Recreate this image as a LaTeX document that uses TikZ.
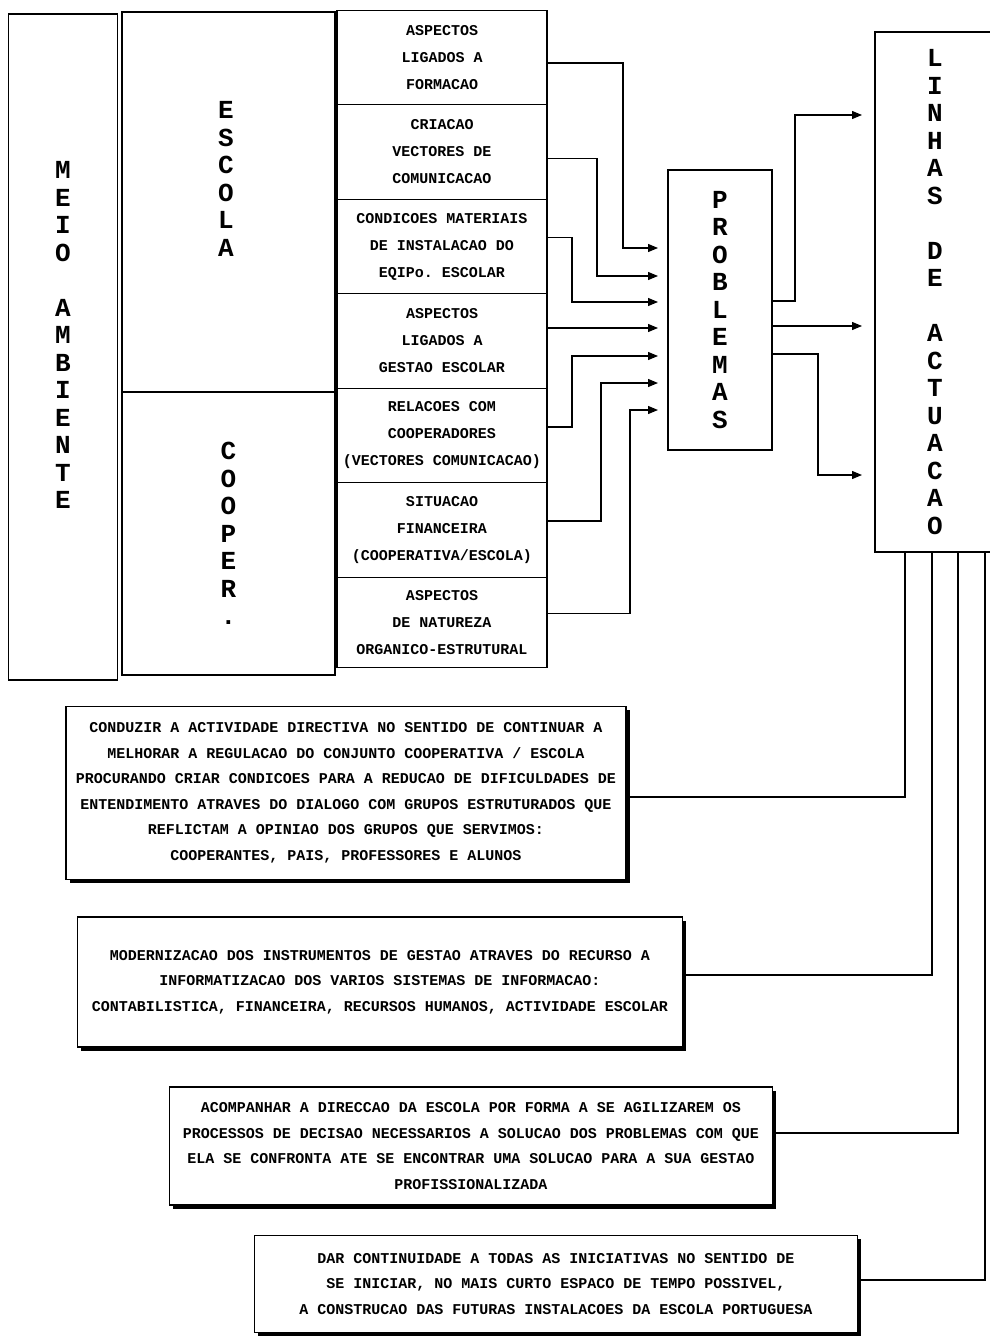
\documentclass[tikz,border=0pt]{standalone}
\usepackage{fontspec}
\setmonofont{Liberation Mono}
\usetikzlibrary{positioning,arrows.meta,shadows}

\begin{document}
\begin{tikzpicture}[x=1pt, y=-1pt,
    every node/.style={font=\ttfamily},
    col/.style={draw, line width=1.2pt, outer sep=0pt, inner sep=0pt, align=center},
    vlab/.style={align=center, inner sep=0pt, font=\ttfamily\bfseries\fontsize{26}{27.5}\selectfont},
    cell/.style={col, minimum width=210pt, minimum height=94.5pt, font=\ttfamily\bfseries\fontsize{15}{27}\selectfont},
    note/.style={draw, line width=1.4pt, fill=white, align=center, inner sep=0pt,
        font=\ttfamily\bfseries\fontsize{15}{25.5}\selectfont,
        drop shadow={shadow xshift=3.5pt, shadow yshift=-3.5pt, fill=black, opacity=1}},
    arr/.style={line width=1.2pt, -{Triangle[length=10pt,width=8pt]}},
    ln/.style={line width=1.2pt}
]
    \useasboundingbox (0,0) rectangle (989,1340);

    % left columns
    \node[col, minimum width=109pt, minimum height=666pt] (meio) at (63,347) {};
    \node[vlab] (meioT) at (63,335) {M\\E\\I\\O\\[27.5pt]A\\M\\B\\I\\E\\N\\T\\E};
    \node[col, minimum width=213pt, minimum height=380pt] (escola) at (228.5,202) {};
    \node[vlab] (escolaT) at (226,179) {E\\S\\C\\O\\L\\A};
    \node[col, vlab, minimum width=213pt, minimum height=283pt, below=0pt of escola] (cooper) {C\\O\\O\\P\\E\\R\\.};

    % factor cells
    \node[cell] (f1) at (442,57.5) {ASPECTOS\\LIGADOS A\\FORMACAO};
    \node[cell, below=0pt of f1] (f2) {CRIACAO\\VECTORES DE\\COMUNICACAO};
    \node[cell, below=0pt of f2] (f3) {CONDICOES MATERIAIS\\DE INSTALACAO DO\\EQIPo. ESCOLAR};
    \node[cell, below=0pt of f3] (f4) {ASPECTOS\\LIGADOS A\\GESTAO ESCOLAR};
    \node[cell, below=0pt of f4] (f5) {RELACOES COM\\COOPERADORES\\(VECTORES COMUNICACAO)};
    \node[cell, below=0pt of f5] (f6) {SITUACAO\\FINANCEIRA\\(COOPERATIVA/ESCOLA)};
    \node[cell, minimum height=90pt, below=0pt of f6] (f7) {ASPECTOS\\DE NATUREZA\\ORGANICO-ESTRUTURAL};

    \node[col, vlab, minimum width=104pt, minimum height=280pt] (prob) at (720,310) {P\\R\\O\\B\\L\\E\\M\\A\\S};
    \node[col, vlab, minimum width=120pt, minimum height=520pt] (lin) at (935,292)
        {L\\I\\N\\H\\A\\S\\[27.5pt]D\\E\\[27.5pt]A\\C\\T\\U\\A\\C\\A\\O};

    % arrow ends in front of the boxes
    \foreach \i/\y in {1/248,2/276,3/302,4/328,5/356,6/383,7/410}
        \coordinate (in\i) at (658,\y);
    \coordinate (out1) at (862,115);
    \coordinate (out2) at (862,326);
    \coordinate (out3) at (862,475);

    % factors into problems
    \draw[arr] ([yshift=-5.5pt]f1.east) -- ++(76,0) |- (in1);
    \draw[arr] ([yshift=-6.5pt]f2.east) -- ++(50,0) |- (in2);
    \draw[arr] ([yshift=9pt]f3.east) -- ++(25,0) |- (in3);
    \draw[arr] (f4.east |- in4) -- (in4);
    \draw[arr] ([yshift=8.5pt]f5.east) -- ++(25,0) |- (in5);
    \draw[arr] ([yshift=9pt]f6.east) -- ++(54,0) |- (in6);
    \draw[arr] ([yshift=9pt]f7.east) -- ++(83,0) |- (in7);

    % problems into lines of action
    \draw[arr] ([yshift=9pt]prob.east) -- ++(23,0) |- (out1);
    \draw[arr] (prob.east |- out2) -- (out2);
    \draw[arr] ([yshift=-44pt]prob.east) -- ++(46,0) |- (out3);

    % lines of action
    \node[note, minimum width=560pt, minimum height=173pt] (t1) at (346,793)
        {CONDUZIR A ACTIVIDADE DIRECTIVA NO SENTIDO DE CONTINUAR A\\
         MELHORAR A REGULACAO DO CONJUNTO COOPERATIVA / ESCOLA\\
         PROCURANDO CRIAR CONDICOES PARA A REDUCAO DE DIFICULDADES DE\\
         ENTENDIMENTO ATRAVES DO DIALOGO COM GRUPOS ESTRUTURADOS QUE\\
         REFLICTAM A OPINIAO DOS GRUPOS QUE SERVIMOS:\\
         COOPERANTES, PAIS, PROFESSORES E ALUNOS};
    \node[note, minimum width=605pt, minimum height=130pt] (t2) at (380,982)
        {MODERNIZACAO DOS INSTRUMENTOS DE GESTAO ATRAVES DO RECURSO A\\
         INFORMATIZACAO DOS VARIOS SISTEMAS DE INFORMACAO:\\
         CONTABILISTICA, FINANCEIRA, RECURSOS HUMANOS, ACTIVIDADE ESCOLAR};
    \node[note, minimum width=603pt, minimum height=118pt] (t3) at (471,1146)
        {ACOMPANHAR A DIRECCAO DA ESCOLA POR FORMA A SE AGILIZAREM OS\\
         PROCESSOS DE DECISAO NECESSARIOS A SOLUCAO DOS PROBLEMAS COM QUE\\
         ELA SE CONFRONTA ATE SE ENCONTRAR UMA SOLUCAO PARA A SUA GESTAO\\
         PROFISSIONALIZADA};
    \node[note, minimum width=603pt, minimum height=97pt] (t4) at (556,1284)
        {DAR CONTINUIDADE A TODAS AS INICIATIVAS NO SENTIDO DE\\
         SE INICIAR, NO MAIS CURTO ESPACO DE TEMPO POSSIVEL,\\
         A CONSTRUCAO DAS FUTURAS INSTALACOES DA ESCOLA PORTUGUESA};

    \draw[ln] ([xshift=30pt]lin.south west) |- ([yshift=-4pt]t1.east);
    \draw[ln] ([xshift=57pt]lin.south west) |- ([yshift=7pt]t2.east);
    \draw[ln] ([xshift=83pt]lin.south west) |- ([yshift=13pt]t3.east);
    \draw[ln] ([xshift=110pt]lin.south west) |- ([yshift=4pt]t4.east);
\end{tikzpicture}
\end{document}
